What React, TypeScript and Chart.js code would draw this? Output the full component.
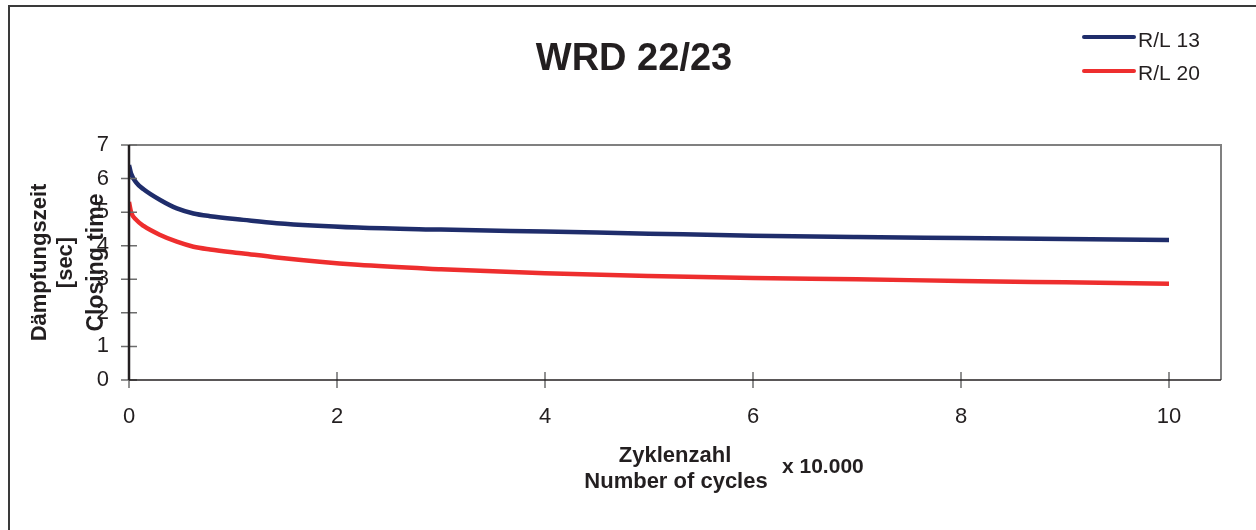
import React, { useEffect, useRef } from "react";
import { Chart, registerables } from "chart.js";

Chart.register(...registerables);

const chartTitle = "WRD 22/23";
const cycles = [0, 0.02, 0.07, 0.14, 0.3, 0.46, 0.62, 0.78, 1.1, 1.42, 2.2, 3, 4, 5, 6, 7, 8, 9, 10];
const rl13 = [6.4, 6.15, 5.88, 5.68, 5.36, 5.11, 4.96, 4.88, 4.77, 4.67, 4.54, 4.48, 4.42, 4.36, 4.3, 4.26, 4.23, 4.2, 4.17];
const rl20 = [5.3, 5.0, 4.77, 4.59, 4.32, 4.12, 3.97, 3.89, 3.77, 3.65, 3.43, 3.3, 3.18, 3.1, 3.04, 3.0, 2.95, 2.91, 2.87];
const seriesNames = ["R/L 13", "R/L 20"];
const seriesColors = ["#1f2d6b", "#ee2e2e"];
const xTicks = [0, 2, 4, 6, 8, 10];
const yTitleDe = ["Dämpfungszeit", "[sec]"];
const yTitleEn = "Closing time";
const xTitleDe = "Zyklenzahl";
const xTitleEn = "Number of cycles";
const xUnit = "x 10.000";

const FONT = "'Liberation Sans', Arial, sans-serif";

const decorPlugin = {
  id: "decor",
  beforeDraw(chart: any) {
    const ctx = chart.ctx;
    ctx.save();
    ctx.fillStyle = "#ffffff";
    ctx.fillRect(0, 0, chart.width, chart.height);
    ctx.restore();
  },
  afterDraw(chart: any) {
    const ctx = chart.ctx;
    const { left, right, top, bottom } = chart.chartArea;
    const xs = chart.scales.x;
    const ys = chart.scales.y;
    ctx.save();
    // outer frame
    ctx.strokeStyle = "#3a3a3a";
    ctx.lineWidth = 2;
    ctx.beginPath();
    ctx.moveTo(9, chart.height + 5);
    ctx.lineTo(9, 6);
    ctx.lineTo(chart.width + 5, 6);
    ctx.stroke();

    // plot borders (top, right) gray
    ctx.strokeStyle = "#808080";
    ctx.lineWidth = 2;
    ctx.beginPath();
    ctx.moveTo(left, top);
    ctx.lineTo(right, top);
    ctx.lineTo(right, bottom);
    ctx.stroke();

    // ticks crossing
    ctx.strokeStyle = "#6d6d6d";
    ctx.lineWidth = 1.5;
    ctx.beginPath();
    for (let v = 0; v <= 7; v++) {
      const y = ys.getPixelForValue(v);
      ctx.moveTo(left - 8, y);
      ctx.lineTo(left + 8, y);
    }
    for (const v of xTicks) {
      const x = xs.getPixelForValue(v);
      ctx.moveTo(x, bottom - 8);
      ctx.lineTo(x, bottom + 8);
    }
    ctx.stroke();

    // axis lines
    ctx.strokeStyle = "#231f20";
    ctx.lineWidth = 1.5;
    ctx.beginPath();
    ctx.moveTo(left, bottom);
    ctx.lineTo(right, bottom);
    ctx.stroke();
    ctx.lineWidth = 2.5;
    ctx.beginPath();
    ctx.moveTo(left, top);
    ctx.lineTo(left, bottom);
    ctx.stroke();

    ctx.fillStyle = "#231f20";
    // title
    ctx.font = `bold 38px ${FONT}`;
    ctx.textAlign = "center";
    ctx.textBaseline = "alphabetic";
    ctx.fillText(chartTitle, 634, 70);

    // legend
    ctx.font = `21px ${FONT}`;
    ctx.textAlign = "left";
    const legY = [37, 71];
    const legBase = [47, 80];
    seriesNames.forEach((name, i) => {
      ctx.strokeStyle = seriesColors[i];
      ctx.lineWidth = 4;
      ctx.lineCap = "round";
      ctx.beginPath();
      ctx.moveTo(1084, legY[i]);
      ctx.lineTo(1134, legY[i]);
      ctx.stroke();
      ctx.fillStyle = "#231f20";
      ctx.fillText(name, 1138, legBase[i]);
    });

    // x title
    ctx.font = `bold 22px ${FONT}`;
    ctx.textAlign = "center";
    ctx.fillText(xTitleDe, 675, 462);
    ctx.fillText(xTitleEn, 676, 488);
    ctx.font = `bold 21px ${FONT}`;
    ctx.textAlign = "left";
    ctx.fillText(xUnit, 782, 473);

    // y titles (rotated)
    const cy = (top + bottom) / 2;
    const drawRot = (text: string, x: number, font: string) => {
      ctx.save();
      ctx.translate(x, cy);
      ctx.rotate(-Math.PI / 2);
      ctx.font = font;
      ctx.textAlign = "center";
      ctx.textBaseline = "alphabetic";
      ctx.fillText(text, 0, 0);
      ctx.restore();
    };
    drawRot(yTitleDe[0], 46, `bold 22px ${FONT}`);
    drawRot(yTitleDe[1], 72, `bold 22px ${FONT}`);
    drawRot(yTitleEn, 103, `bold 23px ${FONT}`);
    ctx.restore();
  },
};

export default function App() {
  const ref = useRef<HTMLCanvasElement | null>(null);
  useEffect(() => {
    if (!ref.current) return;
    const toPts = (vals: number[]) => cycles.map((c, i) => ({ x: c, y: vals[i] }));
    const chart = new Chart(ref.current, {
      type: "line",
      data: {
        datasets: [rl13, rl20].map((vals, i) => ({
          label: seriesNames[i],
          data: toPts(vals),
          borderColor: seriesColors[i],
          backgroundColor: seriesColors[i],
          borderWidth: 4.5,
          pointRadius: 0,
          cubicInterpolationMode: "monotone" as const,
          fill: false,
        })),
      },
      options: {
        animation: false,
        responsive: false,
        maintainAspectRatio: false,
        layout: { padding: { left: 0, right: 35, top: 145, bottom: 0 } },
        plugins: {
          legend: { display: false },
          title: { display: false },
          tooltip: { enabled: false },
        },
        scales: {
          x: {
            type: "linear",
            min: 0,
            max: 10.5,
            grid: { display: false },
            border: { display: false },
            afterBuildTicks: (scale: any) => {
              scale.ticks = xTicks.map((v) => ({ value: v }));
            },
            afterFit: (scale: any) => {
              scale.height = 150;
            },
            ticks: {
              padding: 16,
              maxRotation: 0,
              autoSkip: false,
              color: "#231f20",
              font: { family: FONT, size: 22 },
            },
          },
          y: {
            min: 0,
            max: 7,
            grid: { display: false },
            border: { display: false },
            afterFit: (scale: any) => {
              scale.width = 129;
            },
            ticks: {
              stepSize: 1,
              padding: 12,
              color: "#231f20",
              font: { family: FONT, size: 22 },
            },
          },
        },
      },
      plugins: [decorPlugin],
    });
    return () => chart.destroy();
  }, []);
  return (
    <div style={{ position: "absolute", left: 0, top: 0, width: 1256, height: 530 }}>
      <canvas ref={ref} width={1256} height={530} style={{ display: "block", width: 1256, height: 530 }} />
    </div>
  );
}
